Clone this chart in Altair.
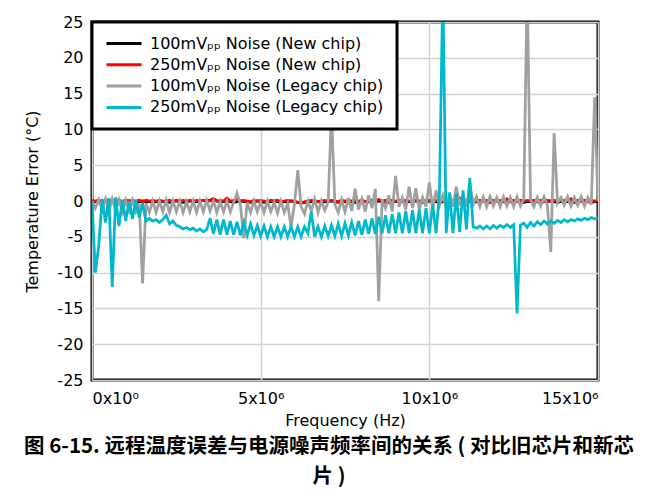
import altair as alt
import pandas as pd

# Frequency grid (MHz)
freq_mhz = [
    0.0, 0.1, 0.2, 0.3, 0.4, 0.5, 0.6, 0.7, 0.8, 0.9,
    1.0, 1.1, 1.2, 1.3, 1.4, 1.5, 1.6, 1.7, 1.8, 1.9,
    2.0, 2.1, 2.2, 2.3, 2.4, 2.5, 2.6, 2.7, 2.8, 2.9,
    3.0, 3.1, 3.2, 3.3, 3.4, 3.5, 3.6, 3.7, 3.8, 3.9,
    4.0, 4.1, 4.2, 4.3, 4.4, 4.5, 4.6, 4.7, 4.8, 4.9,
    5.0, 5.1, 5.2, 5.3, 5.4, 5.5, 5.6, 5.7, 5.8, 5.9,
    6.0, 6.1, 6.2, 6.3, 6.4, 6.5, 6.6, 6.7, 6.8, 6.9,
    7.0, 7.1, 7.2, 7.3, 7.4, 7.5, 7.6, 7.7, 7.8, 7.9,
    8.0, 8.1, 8.2, 8.3, 8.4, 8.5, 8.6, 8.7, 8.8, 8.9,
    9.0, 9.1, 9.2, 9.3, 9.4, 9.5, 9.6, 9.7, 9.8, 9.9,
    10.0, 10.1, 10.2, 10.3, 10.4, 10.5, 10.6, 10.7, 10.8, 10.9,
    11.0, 11.1, 11.2, 11.3, 11.4, 11.5, 11.6, 11.7, 11.8, 11.9,
    12.0, 12.1, 12.2, 12.3, 12.4, 12.5, 12.6, 12.7, 12.8, 12.9,
    13.0, 13.1, 13.2, 13.3, 13.4, 13.5, 13.6, 13.7, 13.8, 13.9,
    14.0, 14.1, 14.2, 14.3, 14.4, 14.5, 14.6, 14.7, 14.8, 14.9,
    15.0,
]

# 100 mVpp noise, new chip (black)
new_100 = [
    0.0, -0.1, -0.1, -0.2, -0.1, -0.1, 0.0, -0.1, -0.2, -0.1,
    -0.1, 0.0, -0.1, -0.2, -0.1, 0.0, -0.1, -0.1, -0.2, -0.1,
    0.0, -0.1, -0.1, -0.2, -0.1, 0.0, -0.1, -0.2, -0.1, 0.0,
    -0.1, -0.1, 0.0, 0.1, 0.0, 0.1, 0.3, 0.0, -0.1, -0.1,
    0.0, -0.1, -0.2, -0.1, 0.0, -0.1, -0.1, -0.2, -0.1, 0.0,
    -0.1, -0.2, -0.1, -0.1, 0.0, -0.1, -0.2, -0.1, -0.1, 0.0,
    -0.1, -0.2, -0.3, -0.2, -0.1, -0.1, 0.0, -0.1, -0.2, -0.1,
    -0.1, 0.0, -0.1, -0.2, -0.1, -0.1, 0.0, -0.1, -0.2, -0.1,
    0.0, -0.1, -0.1, -0.2, -0.1, 0.0, -0.1, -0.1, -0.2, -0.1,
    -0.1, 0.0, -0.1, -0.2, -0.1, -0.1, 0.0, -0.1, -0.2, -0.1,
    0.0, -0.1, -0.1, -0.2, -0.1, 0.0, -0.1, -0.1, -0.2, -0.1,
    -0.1, 0.0, -0.1, -0.2, -0.1, -0.1, 0.0, -0.1, -0.2, -0.1,
    0.0, -0.1, -0.1, -0.2, -0.1, 0.0, -0.1, -0.1, -0.2, -0.1,
    -0.1, 0.0, -0.1, -0.2, -0.1, -0.1, 0.0, -0.1, -0.2, -0.1,
    0.0, -0.1, -0.1, -0.2, -0.1, 0.0, -0.1, -0.1, -0.2, -0.1,
    -0.1,
]

# 250 mVpp noise, new chip (red)
new_250 = [
    0.1, 0.0, 0.1, -0.1, 0.1, 0.0, 0.1, 0.0, 0.1, -0.1,
    0.1, 0.0, 0.1, 0.0, 0.1, -0.1, 0.1, 0.0, 0.1, 0.0,
    0.1, 0.0, 0.0, 0.1, -0.1, 0.1, 0.0, 0.1, 0.0, 0.1,
    0.0, 0.1, 0.0, 0.1, 0.1, 0.0, 0.3, 0.0, 0.1, 0.0,
    0.4, 0.0, 0.1, 0.3, 0.0, 0.1, 0.0, -0.1, 0.1, 0.0,
    0.1, 0.0, -0.1, 0.1, 0.0, 0.1, -0.1, 0.0, 0.1, 0.0,
    0.0, -0.2, -0.3, -0.1, 0.0, 0.1, 0.0, -0.1, 0.0, 0.1,
    0.0, 0.1, 0.0, -0.1, 0.1, 0.0, 0.1, 0.0, 0.1, 0.0,
    0.1, -0.1, 0.0, 0.1, 0.0, 0.2, 0.0, 0.1, -0.1, 0.1,
    0.0, 0.1, 0.0, 0.1, 0.0, -0.1, 0.1, 0.0, 0.1, 0.0,
    0.1, 0.0, 0.1, 0.0, 0.1, 0.0, -0.1, 0.1, 0.0, 0.4,
    0.1, 0.0, -0.1, 0.1, 0.0, 0.1, 0.0, 0.1, 0.0, 0.1,
    0.0, 0.1, 0.0, 0.3, 0.0, 0.1, -0.1, 0.1, 0.0, 0.1,
    0.0, 0.1, 0.0, 0.1, -0.1, 0.1, 0.0, 0.1, 0.0, 0.1,
    0.0, 0.1, 0.3, 0.0, 0.1, 0.0, 0.1, -0.1, 0.1, 0.0,
    0.1,
]

# 100 mVpp noise, legacy chip (gray)
legacy_100 = [
    0.0, -1.0, 0.2, -1.2, 0.3, -1.5, 0.3, -1.3, 0.2, -1.5,
    0.1, -1.4, 0.1, -1.5, -0.4, -11.5, -0.3, -1.6, 0.0, -1.6,
    0.0, -1.5, 0.1, -1.6, 0.0, -1.5, 0.0, -1.6, -0.1, -1.5,
    0.0, -1.6, 0.0, -1.5, 0.1, -1.4, 0.0, -1.6, -0.1, -1.5,
    0.0, -1.5, -0.2, 1.1, -0.6, -5.2, -0.2, -1.6, 0.0, -1.5,
    -0.1, -1.6, 0.0, -1.5, -0.2, -1.7, 0.0, -1.6, -0.4, -3.6,
    -0.5, 4.3, -0.8, -1.8, 0.0, -1.4, 0.3, -1.6, 0.0, -1.3,
    -0.2, 12.4, -0.5, -1.6, 0.2, -1.5, 0.4, -1.4, 1.7, -1.2,
    0.3, -1.5, 0.8, -1.0, 1.7, -14.0, 0.2, -1.0, 0.8, -1.5,
    3.5, -0.8, 0.5, -1.2, 2.0, -1.0, 1.8, -1.2, 0.5, -0.8,
    2.6, -1.0, 1.5, -0.6, 0.8, -1.0, 1.0, -0.8, 2.0, -0.6,
    0.8, -0.8, 2.5, -0.5, 0.6, -0.8, 0.6, -0.8, 0.6, -0.7,
    0.5, -0.8, 0.6, -0.7, 0.5, -0.8, 0.6, -0.7, 0.3, 30.0,
    0.2, -0.8, 0.5, -0.7, 0.6, -0.6, -7.1, 9.5, -0.3, 0.5,
    -0.6, 0.6, -0.7, 0.5, -0.6, 0.6, -0.7, 0.5, -0.5, 14.5,
    0.0,
]

# 250 mVpp noise, legacy chip (cyan)
legacy_250 = [
    0.0, -10.0, -6.2, 0.3, -3.0, 0.4, -12.0, 0.5, -3.5, 0.2,
    -2.8, 0.0, -2.5, 0.1, -2.3, -0.3, -2.8, -2.4, -2.8, -2.6,
    -3.0, -2.6, -2.0, -3.2, -2.8, -3.4, -3.6, -3.9, -3.7, -4.0,
    -3.8, -4.2, -3.9, -4.3, -4.0, -2.4, -4.6, -2.6, -4.7, -2.6,
    -4.7, -2.8, -4.7, -2.9, -4.8, -3.0, -4.8, -3.2, -4.8, -3.4,
    -4.9, -3.5, -5.0, -3.6, -5.0, -3.6, -5.0, -3.6, -5.0, -3.6,
    -5.0, -3.6, -5.0, -3.6, -4.5, -1.5, -5.0, -3.6, -5.0, -3.5,
    -4.9, -3.4, -4.9, -3.2, -4.9, -3.1, -4.8, -3.0, -4.8, -2.8,
    -4.7, -2.6, -4.6, -2.4, -4.6, -2.2, -4.5, -2.0, -4.5, -1.8,
    -4.5, -1.6, -4.5, -1.4, -4.5, -1.3, -4.5, -1.2, -4.5, -1.0,
    -4.5, -0.5, -4.5, 1.0, 30.0, -4.5, 1.2, -4.5, 1.0, -4.3,
    1.5, -4.0, 3.2, -3.6, -3.8, -3.5, -3.9, -3.5, -3.9, -3.4,
    -3.8, -3.4, -3.7, -3.3, -3.7, -3.3, -15.7, -3.4, -3.1, -3.7,
    -3.0, -3.5, -2.9, -3.3, -2.8, -3.2, -2.8, -3.1, -2.7, -3.0,
    -2.6, -2.9, -2.6, -2.8, -2.5, -2.7, -2.4, -2.6, -2.3, -2.5,
    -2.4,
]

series_names = [
    "100mVₚₚ Noise (New chip)",
    "250mVₚₚ Noise (New chip)",
    "100mVₚₚ Noise (Legacy chip)",
    "250mVₚₚ Noise (Legacy chip)",
]
series_colors = ["#000000", "#ff0000", "#a0a0a0", "#00b8cc"]
y_ticks = [-25, -20, -15, -10, -5, 0, 5, 10, 15, 20, 25]
x_ticks = [0, 5, 10, 15]

rows = []
for name, vals in zip(series_names, [new_100, new_250, legacy_100, legacy_250]):
    for f, v in zip(freq_mhz, vals):
        rows.append({"freq": f, "err": v, "series": name})
df = pd.DataFrame(rows)

FONT = "DejaVu Sans"

lines = alt.Chart(df).mark_line(strokeWidth=2.75, clip=True).encode(
    x=alt.X(
        "freq:Q",
        scale=alt.Scale(domain=[0, 15], nice=False, zero=False),
        axis=alt.Axis(
            values=x_ticks,
            labelExpr="datum.value == 0 ? '0x10⁰' : datum.value + 'x10⁶'",
            title="Frequency (Hz)",
            labelPadding=10,
            titlePadding=6,
        ),
    ),
    y=alt.Y(
        "err:Q",
        scale=alt.Scale(domain=[-25, 25], nice=False),
        axis=alt.Axis(
            values=y_ticks,
            labelExpr="'' + datum.value",
            title="Temperature Error (°C)",
            labelPadding=9,
            titlePadding=16,
        ),
    ),
    color=alt.Color(
        "series:N",
        scale=alt.Scale(domain=series_names, range=series_colors),
        legend=alt.Legend(
            title=None,
            orient="none",
            legendX=0,
            legendY=0,
            symbolType="stroke",
            symbolSize=1225,
            symbolStrokeWidth=3,
            clipHeight=17,
            labelFont=FONT,
            labelFontSize=16,
            labelColor="black",
            labelOffset=7,
            labelLimit=500,
            labelExpr="datum.label + '\u00a0\u00a0\u00a0'",
            padding=13,
            rowPadding=4.3,
            strokeColor="black",
            fillColor="white",
        ),
    ),
)

top_rule = alt.Chart(pd.DataFrame({"k": [0]})).mark_rule(
    color="#8a8a8a", strokeWidth=1.5
).encode(x=alt.value(-92), x2=alt.value(566), y=alt.value(-18))

chart = (
    alt.layer(lines, top_rule)
    .properties(
        width=506,
        height=358,
        autosize=alt.AutoSizeParams(type="none"),
        padding={"left": 84, "top": 14, "right": 52, "bottom": 112},
        title=alt.Title(
            ["图 6-15. 远程温度误差与电源噪声频率间的关系 ( 对比旧芯片和新芯", "片 )"],
            orient="bottom",
            anchor="middle",
            font="Noto Sans CJK SC",
            fontSize=20.5,
            fontWeight="bold",
            color="black",
            offset=9,
            lineHeight=29.5,
            dx=-16,
        ),
    )
    .configure_view(stroke="black", strokeWidth=3)
    .configure_axis(
        domain=False,
        ticks=False,
        grid=True,
        gridColor="#d3d3d3",
        gridWidth=1.5,
        labelFont=FONT,
        labelFontSize=16,
        labelColor="black",
        titleFont=FONT,
        titleFontSize=16,
        titleFontWeight="normal",
        titleColor="black",
    )
    .configure_legend(strokeWidth=3)
)

chart.save("out.html", embed_options={"renderer": "svg", "actions": False})
